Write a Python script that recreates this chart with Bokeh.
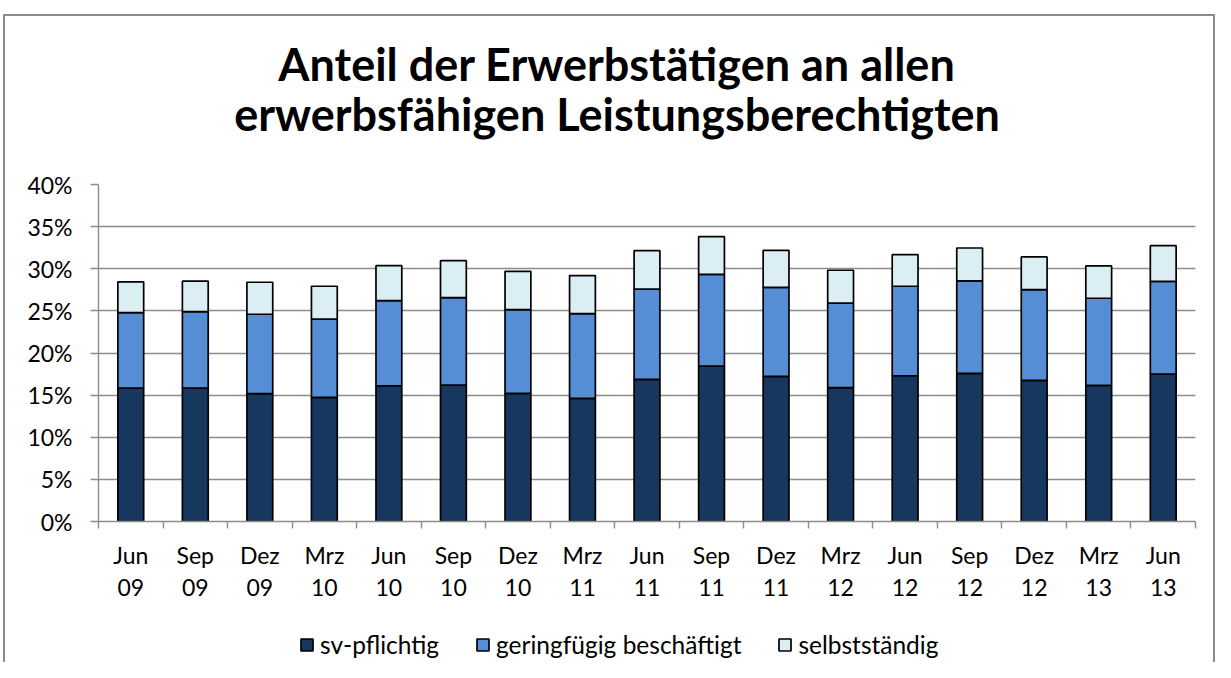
from bokeh.plotting import figure
from bokeh.layouts import column
from bokeh.models import (ColumnDataSource, Range1d, LinearAxis, FixedTicker,
                          PrintfTickFormatter, Legend, LegendItem, Label, Grid)
from bokeh.embed import file_html
from bokeh.resources import INLINE

# ---------------- data ----------------
months = ["Jun", "Sep", "Dez", "Mrz", "Jun", "Sep", "Dez", "Mrz", "Jun",
          "Sep", "Dez", "Mrz", "Jun", "Sep", "Dez", "Mrz", "Jun"]
years = ["09", "09", "09", "10", "10", "10", "10", "11", "11",
         "11", "11", "12", "12", "12", "12", "13", "13"]
sv_pflichtig = [15.84, 15.84, 15.17, 14.73, 16.11, 16.19, 15.20, 14.61, 16.86,
                18.44, 17.22, 15.88, 17.30, 17.57, 16.75, 16.15, 17.50]
geringfuegig = [8.96, 9.08, 9.43, 9.28, 10.11, 10.39, 9.96, 10.07, 10.71,
                10.90, 10.58, 10.03, 10.62, 10.98, 10.78, 10.35, 11.01]
selbststaendig = [3.64, 3.60, 3.80, 3.91, 4.15, 4.38, 4.54, 4.51, 4.58,
                  4.47, 4.39, 3.91, 3.75, 3.91, 3.87, 3.83, 4.23]
series_names = ["sv-pflichtig", "geringfügig beschäftigt", "selbstständig"]
y_ticks = [0, 5, 10, 15, 20, 25, 30, 35, 40]
title_lines = ["Anteil der Erwerbstätigen an allen",
               "erwerbsfähigen Leistungsberechtigten"]

colors = ["#17375E", "#558ED5", "#DBEEF4"]
FONT = "Lato"
GRID = "#8c8c8c"
LBL = "23px"

x = list(range(len(months)))
boundaries = [i - 0.5 for i in range(len(months) + 1)]
src = ColumnDataSource(dict(x=x, sv=sv_pflichtig, ge=geringfuegig, se=selbststaendig))

W = 1215
FL, FR = 98, 1195          # plot-area left / right edge (px)
H_T, H_M, H_L = 160, 456, 46


def bare(h, y0=0):
    f = figure(width=W, height=h, x_range=Range1d(FL, FR), y_range=Range1d(y0, y0 + h),
               output_backend="svg", toolbar_location=None, min_border=0,
               x_axis_location=None, y_axis_location=None)
    f.outline_line_color = None
    f.background_fill_color = None
    f.border_fill_color = None
    f.grid.visible = False
    return f


# ---------------- title strip ----------------
pt = bare(H_T)
for txt, yb in zip(title_lines, [97, 47]):
    pt.add_layout(Label(x=616.5, y=yb, text=txt, text_align="center",
                        text_baseline="alphabetic", text_font=FONT,
                        text_font_style="bold", text_font_size="45px",
                        text_color="black"))

# ---------------- main chart ----------------
p = figure(width=W, height=H_M,
           x_range=Range1d(-0.5, len(months) - 0.5), y_range=Range1d(0, 40),
           output_backend="svg", toolbar_location=None,
           x_axis_location=None, y_axis_location=None,
           min_border_left=FL, min_border_right=W - FR,
           min_border_top=24, min_border_bottom=95)
p.outline_line_color = None
p.background_fill_color = "white"
p.border_fill_color = None
p.grid.visible = False

ytk = FixedTicker(ticks=y_ticks)
p.add_layout(Grid(dimension=1, ticker=ytk, grid_line_color=GRID, grid_line_width=1.4))

yax = LinearAxis(ticker=ytk, formatter=PrintfTickFormatter(format="%d%%"),
                 major_tick_out=8, major_tick_in=0, minor_tick_line_color=None,
                 axis_line_color=GRID, axis_line_width=1.4,
                 major_tick_line_color=GRID, major_tick_line_width=1.4,
                 major_label_text_font=FONT, major_label_text_font_size=LBL,
                 major_label_text_color="black", major_label_standoff=18)
p.add_layout(yax, "left")

xm = LinearAxis(ticker=FixedTicker(ticks=x, minor_ticks=boundaries),
                major_label_overrides={i: m for i, m in zip(x, months)},
                major_tick_out=0, major_tick_in=0, major_tick_line_color=None,
                minor_tick_out=7, minor_tick_in=0, minor_tick_line_color=GRID,
                minor_tick_line_width=1.4,
                axis_line_color=GRID, axis_line_width=1.4,
                major_label_text_font=FONT, major_label_text_font_size=LBL,
                major_label_text_color="black", major_label_standoff=12)
p.add_layout(xm, "below")

xy = LinearAxis(ticker=FixedTicker(ticks=x),
                major_label_overrides={i: y for i, y in zip(x, years)},
                major_tick_out=0, major_tick_in=0, minor_tick_line_color=None,
                axis_line_color=None, major_tick_line_color=None,
                major_label_text_font=FONT, major_label_text_font_size=LBL,
                major_label_text_color="black", major_label_standoff=7)
p.add_layout(xy, "below")

rs = p.vbar_stack(["sv", "ge", "se"], x="x", width=0.4, source=src,
                  fill_color=colors, line_color="black", line_width=1.7)

# ---------------- legend strip ----------------
# same stacked series, hidden, only to provide the legend swatches
pl = bare(H_L, y0=100)
rs_leg = pl.vbar_stack(["sv", "ge", "se"], x="x", width=0.4, source=src,
                       fill_color=colors, line_color="black", line_width=1.7)
for r in rs_leg:
    r.visible = False
legend = Legend(items=[LegendItem(label=n, renderers=[r]) for n, r in zip(series_names, rs_leg)],
                orientation="horizontal", location=(299 - FL, 3),
                glyph_width=15, glyph_height=15, label_standoff=6, spacing=36,
                padding=0, margin=0, border_line_color=None, background_fill_alpha=0,
                inactive_fill_alpha=0,
                label_text_font=FONT, label_text_font_size="24.5px",
                label_text_color="black")
pl.add_layout(legend)

root = column(pt, p, pl, spacing=0)
root.styles = {
    "background-color": "white",
    "background-image": ("linear-gradient(#8c8c8c,#8c8c8c), "
                         "linear-gradient(#8c8c8c,#8c8c8c), "
                         "linear-gradient(#8c8c8c,#8c8c8c)"),
    "background-size": "100% 2px, 2px 100%, 2px 100%",
    "background-position": "3px 14px, 3px 14px, 100% 14px",
    "background-repeat": "no-repeat",
}

open("out.html", "w").write(file_html(root, INLINE))
